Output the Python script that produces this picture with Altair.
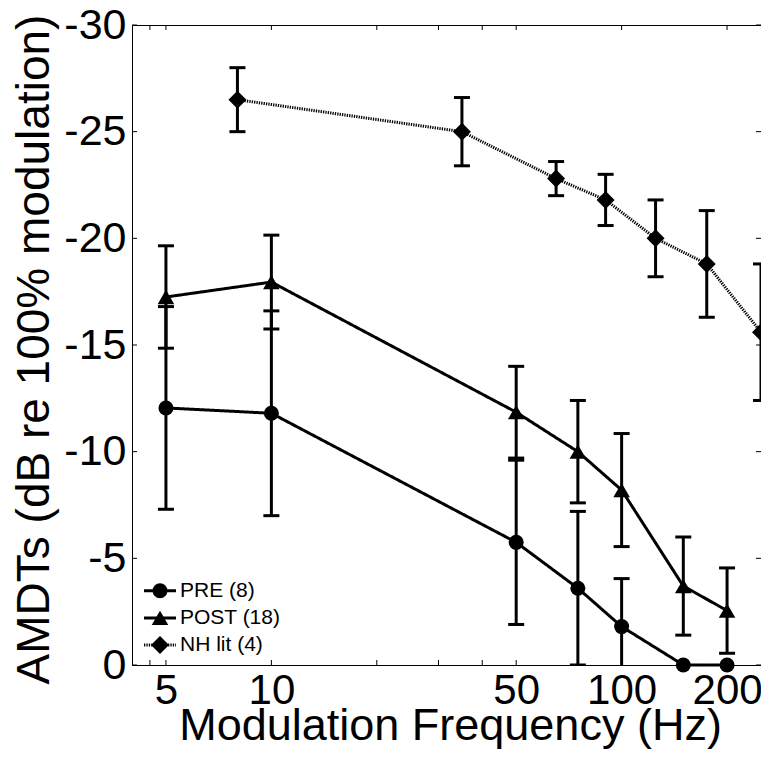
import altair as alt
import pandas as pd

FONT = "Liberation Sans"

series = ["PRE (8)", "POST (18)", "NH lit (4)"]
shapes = ["circle", "triangle-up", "diamond"]

pre_freq = [5, 10, 50, 75, 100, 150, 200]
pre_mean = [-12.05, -11.8, -5.75, -3.6, -1.8, 0.0, 0.0]
pre_sd = [4.75, 4.8, 3.85, 3.6, 2.25, 0.0, 0.0]

post_freq = [5, 10, 50, 75, 100, 150, 200]
post_mean = [-17.25, -17.95, -11.85, -10.0, -8.2, -3.7, -2.55]
post_sd = [2.4, 2.2, 2.15, 2.4, 2.65, 2.3, 2.0]

nh_freq = [8, 35, 65, 90, 125, 175, 250]
nh_mean = [-26.5, -25.0, -22.8, -21.8, -20.0, -18.8, -15.6]
nh_sd = [1.5, 1.6, 0.8, 1.2, 1.8, 2.5, 3.2]

x_label_values = [5, 10, 50, 100, 200]
x_tick_values = [4.5, 5, 10, 20, 30, 40, 50, 100, 200]
y_tick_values = [-30, -25, -20, -15, -10, -5, 0]

rows = []
for name, fr, mn, sd in zip(series, [pre_freq, post_freq, nh_freq],
                            [pre_mean, post_mean, nh_mean], [pre_sd, post_sd, nh_sd]):
    for f, m, s in zip(fr, mn, sd):
        rows.append({"series": name, "freq": f, "mean": m, "sd": s, "lo": m - s, "hi": m + s})
df = pd.DataFrame(rows)

W, H = 629, 640

xs = alt.Scale(type="log", domain=[4, 250], nice=False)
ys = alt.Scale(domain=[-30, 0], reverse=True, nice=False, zero=False)

xaxis = alt.Axis(values=x_label_values, labelExpr="'' + datum.value", ticks=False, domain=False,
                 grid=False, labelFont=FONT, labelFontSize=42, labelColor="black", labelPadding=5,
                 labelFlush=False, labelOverlap=False, labelBaseline="top",
                 title="Modulation Frequency (Hz)", titleFont=FONT, titleFontSize=45,
                 titleFontWeight="normal", titleColor="black", titleX=318, titleY=74,
                 titleBaseline="alphabetic", titleAlign="center")
yaxis = alt.Axis(values=y_tick_values, labelExpr="'' + datum.value", ticks=False, domain=False,
                 grid=False, labelFont=FONT, labelFontSize=43, labelColor="black", labelPadding=6,
                 labelFlush=False, labelOverlap=False,
                 title="AMDTs (dB re 100% modulation)", titleFont=FONT, titleFontSize=46,
                 titleFontWeight="normal", titleColor="black", titleX=-84, titleY=324,
                 titleAngle=270, titleBaseline="alphabetic", titleAlign="center")

X = alt.X("freq:Q", scale=xs, axis=xaxis)
base = alt.Chart(df)

dash_scale = alt.Scale(domain=series, range=[[1, 0], [1, 0], [1.3, 1.1]])
shape_scale = alt.Scale(domain=series, range=shapes)
size_scale = alt.Scale(domain=series, range=[225, 324, 289])

lines = base.mark_line(color="black", strokeWidth=3).encode(
    x=X,
    y=alt.Y("mean:Q", scale=ys, axis=yaxis),
    detail="series:N",
    strokeDash=alt.StrokeDash("series:N", scale=dash_scale, legend=None),
)

errbars = base.transform_filter("datum.sd > 0").mark_rule(color="black", strokeWidth=3, clip=True).encode(
    x=X, y=alt.Y("lo:Q", scale=ys, axis=yaxis), y2="hi:Q"
)

caps = base.transform_filter("datum.sd > 0").transform_fold(["lo", "hi"], as_=["end", "val"]).mark_tick(
    color="black", orient="horizontal", size=16, thickness=3, opacity=1, clip=True
).encode(x=X, y=alt.Y("val:Q", scale=ys, axis=yaxis))

points = base.mark_point(filled=True, opacity=1, color="black").encode(
    x=X,
    y=alt.Y("mean:Q", scale=ys, axis=yaxis),
    shape=alt.Shape("series:N", scale=shape_scale, legend=None),
    size=alt.Size("series:N", scale=size_scale, legend=None),
)

# hand-drawn legend (line + marker + label), rows laid out from the series list
leg = alt.Chart(pd.DataFrame({"series": series, "row": list(range(len(series)))})).transform_calculate(
    ly="565.7 + datum.row * 27.2"
)
LY = alt.Y("ly:Q", scale=None, axis=None)
leg_lines = leg.mark_rule(color="black", strokeWidth=3).encode(
    x=alt.value(12), x2=alt.value(44), y=LY,
    strokeDash=alt.StrokeDash("series:N", scale=dash_scale, legend=None),
)
leg_points = leg.mark_point(filled=True, opacity=1, color="black").encode(
    x=alt.value(28), y=LY,
    shape=alt.Shape("series:N", scale=shape_scale, legend=None),
    size=alt.Size("series:N", scale=size_scale, legend=None),
)
leg_text = leg.mark_text(align="left", baseline="middle", font=FONT, fontSize=21, color="black").encode(
    x=alt.value(48), y=LY, text="series:N"
)

xt = alt.Chart(pd.DataFrame({"t": x_tick_values}))
yt = alt.Chart(pd.DataFrame({"t": y_tick_values}))
XT = alt.X("t:Q", scale=xs, axis=xaxis)
YT = alt.Y("t:Q", scale=ys, axis=yaxis)
xticks_bottom = xt.mark_rule(color="black", strokeWidth=1).encode(x=XT, y=alt.value(H), y2=alt.value(H - 5))
xticks_top = xt.mark_rule(color="black", strokeWidth=1).encode(x=XT, y=alt.value(0), y2=alt.value(5))
yticks_left = yt.mark_rule(color="black", strokeWidth=1).encode(y=YT, x=alt.value(0), x2=alt.value(5))
yticks_right = yt.mark_rule(color="black", strokeWidth=1).encode(y=YT, x=alt.value(W), x2=alt.value(W - 5))

chart = alt.layer(
    xticks_bottom, xticks_top, yticks_left, yticks_right,
    lines, errbars, caps, points,
    leg_lines, leg_points, leg_text,
).properties(
    width=W, height=H,
    padding={"left": 124, "top": 17, "right": 0, "bottom": 84},
    autosize=alt.AutoSizeParams(type="none"),
).configure_view(stroke="black", strokeWidth=1)

chart.save("out.html", embed_options={"renderer": "svg", "actions": False})
